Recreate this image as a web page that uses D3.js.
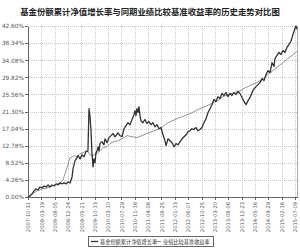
<!DOCTYPE html>
<html>
<head>
<meta charset="utf-8">
<script src="https://cdn.jsdelivr.net/npm/d3@7"></script>
<style>
  html, body { margin: 0; padding: 0; background: #fff; }
  svg { display: block; }
  .grid line { stroke: #c8c8c8; stroke-dasharray: 1,1; shape-rendering: crispEdges; }
  .axis path, .axis line { stroke: #666; shape-rendering: crispEdges; }
  .axis text { fill: #555; font-family: "DejaVu Sans", sans-serif; }
</style>
</head>
<body>
<svg id="chart" width="300" height="249"></svg>
<script>
const title = "基金份额累计净值增长率与同期业绩比较基准收益率的历史走势对比图";
const legendLabels = ["基金份额累计净值增长率", "业绩比较基准收益率"];

// x positions are in "tick periods" (one period between two date labels)
const dateLabels = [
  "2007-10-31", "2008-03-19", "2008-08-05", "2008-12-24", "2009-05-21",
  "2009-10-13", "2010-03-10", "2010-07-29", "2010-11-18", "2011-04-08",
  "2011-08-25", "2012-01-13", "2012-06-07", "2012-10-25", "2013-03-20",
  "2013-08-06", "2013-12-23", "2014-05-16", "2014-09-29", "2015-02-16",
  "2015-07-09"
];
const yTicks = [0, 4.26, 8.52, 12.78, 17.04, 21.30, 25.56, 29.82, 34.08, 38.34, 42.60];
const xEnd = 20.15;

const fundT = [
  0, 0.15, 0.30, 0.45, 0.60, 0.75, 0.90, 1.05, 1.20, 1.35, 1.50, 1.65, 1.80, 1.95,
  2.10, 2.25, 2.40, 2.55, 2.70, 2.85, 3.00, 3.15, 3.30, 3.37, 3.52, 3.67, 3.75, 3.90,
  4.04, 4.19, 4.34, 4.49, 4.57, 4.64, 4.72, 4.79, 4.87, 4.94, 5.02, 5.09, 5.17, 5.24,
  5.32, 5.39, 5.54, 5.69, 5.77, 5.92, 6.07, 6.22, 6.37, 6.52, 6.74, 6.89, 7.04, 7.19,
  7.34, 7.49, 7.64, 7.79, 7.94, 8.01, 8.09, 8.16, 8.24, 8.31, 8.39, 8.46, 8.61, 8.76,
  8.91, 9.06, 9.21, 9.36, 9.51, 9.66, 9.81, 9.96, 10.11, 10.26, 10.34, 10.49, 10.64,
  10.79, 10.94, 11.09, 11.24, 11.39, 11.54, 11.69, 11.84, 11.99, 12.13, 12.28, 12.43,
  12.58, 12.73, 12.88, 13.03, 13.18, 13.33, 13.48, 13.63, 13.78, 13.93, 14.08, 14.23,
  14.38, 14.53, 14.68, 14.83, 14.98, 15.13, 15.28, 15.43, 15.58, 15.73, 15.88, 16.03,
  16.18, 16.33, 16.48, 16.63, 16.78, 16.93, 17.08, 17.23, 17.38, 17.53, 17.68, 17.83,
  17.98, 18.13, 18.28, 18.43, 18.50, 18.65, 18.80, 18.95, 19.10, 19.25, 19.40, 19.55,
  19.70, 19.85, 20.00, 20.07, 20.15
];
const fundV = [
  0, 0.25, 0.75, 1.5, 2.0, 1.75, 2.5, 2.25, 2.75, 2.5, 3.0, 2.5, 3.0, 2.75,
  3.25, 3.0, 3.5, 3.25, 3.5, 3.25, 3.75, 3.5, 5.0, 7.0, 9.0, 9.8, 10.3, 9.5,
  10.5, 10.0, 11.3, 11.5, 22.0, 20.3, 16.5, 11.0, 7.5, 9.5, 8.5, 11.0, 11.5, 12.5,
  11.5, 13.3, 13.8, 13.0, 14.5, 13.5, 14.8, 15.3, 15.8, 15.0, 16.0, 15.3, 15.0, 17.0,
  17.8, 18.5, 18.0, 19.3, 20.5, 21.5, 20.3, 22.0, 21.0, 22.5, 20.3, 19.0, 18.5, 19.3,
  18.3, 18.8, 18.0, 18.5, 17.5, 18.0, 17.0, 17.3, 15.5, 14.0, 12.8, 14.5, 14.0,
  13.5, 12.5, 13.3, 13.0, 13.8, 14.5, 15.0, 15.5, 16.3, 16.5, 17.0, 16.8,
  17.3, 16.5, 16.8, 17.3, 18.5, 19.5, 21.0, 22.0, 23.0, 24.3, 23.8, 25.0,
  24.5, 25.8, 25.3, 26.0, 25.0, 25.8, 25.3, 26.0, 25.5, 26.3, 25.8, 24.8,
  23.8, 23.0, 24.0, 24.8, 26.0, 27.0, 27.5, 28.0, 28.5, 29.5, 29.0, 30.5,
  31.5, 31.0, 33.5, 32.5, 34.5, 35.3, 36.0, 35.5, 36.5, 36.0, 37.3, 38.0,
  38.8, 40.5, 42.0, 42.6, 41.8
];

const benchT = [
  0, 0.30, 0.67, 1.05, 1.42, 1.80, 2.17, 2.40, 2.62, 2.77, 2.92, 3.07, 3.15, 3.30,
  3.45, 3.67, 3.90, 4.12, 4.34, 4.49, 4.64, 4.79, 4.94, 5.17, 5.39, 5.62, 5.92, 6.14,
  6.44, 6.74, 7.04, 7.42, 7.79, 8.16, 8.54, 8.91, 9.29, 9.66, 9.89, 10.19, 10.49,
  10.79, 11.16, 11.54, 11.91, 12.28, 12.73, 13.26, 13.78, 14.23, 14.61, 14.98, 15.43,
  15.88, 16.33, 16.78, 17.15, 17.53, 17.90, 18.28, 18.65, 19.03, 19.40, 19.78, 20.15
];
const benchV = [
  0, 0.75, 1.5, 2.0, 2.25, 2.75, 3.25, 3.5, 4.25, 5.75, 7.25, 9.0, 9.8, 10.0,
  10.3, 10.0, 10.8, 11.0, 11.5, 11.3, 10.5, 10.3, 10.5, 10.8, 11.5, 12.3, 12.5, 13.3,
  13.8, 14.0, 14.5, 15.3, 15.0, 14.8, 15.3, 15.8, 16.3, 16.8, 17.0, 17.8, 18.5,
  19.0, 19.5, 20.0, 20.5, 21.0, 21.8, 22.5, 23.3, 24.0, 25.0, 25.5, 26.0,
  26.5, 27.3, 28.0, 28.5, 29.3, 30.3, 31.3, 32.3, 33.3, 34.3, 35.3, 36.3
];

const svg = d3.select("#chart");
const width = 300, height = 249;
const margin = { top: 26, right: 3, bottom: 52, left: 28 };

const x = d3.scaleLinear()
  .domain([0, xEnd])
  .range([margin.left, width - margin.right]);
const y = d3.scaleLinear()
  .domain([0, 42.6])
  .range([height - margin.bottom, margin.top]);

// title
svg.append("text")
  .attr("x", width / 2)
  .attr("y", 15)
  .attr("text-anchor", "middle")
  .attr("font-family", "'Noto Sans CJK SC', sans-serif")
  .attr("font-weight", 700)
  .attr("font-size", 8.4)
  .attr("fill", "#222")
  .text(title);

// grid
const gridG = svg.append("g").classed("grid", true);
gridG.selectAll(".hg")
  .data(yTicks.slice(1))
  .join("line")
  .attr("class", "hg")
  .attr("x1", margin.left).attr("x2", width - margin.right)
  .attr("y1", (d) => Math.round(y(d)) + 0.5).attr("y2", (d) => Math.round(y(d)) + 0.5);
gridG.selectAll(".vg")
  .data(d3.range(1, dateLabels.length))
  .join("line")
  .attr("class", "vg")
  .attr("x1", (d) => Math.round(x(d)) + 0.5).attr("x2", (d) => Math.round(x(d)) + 0.5)
  .attr("y1", margin.top).attr("y2", height - margin.bottom);

// right frame
svg.append("line")
  .attr("x1", width - margin.right + 0.5).attr("x2", width - margin.right + 0.5)
  .attr("y1", margin.top).attr("y2", height - margin.bottom)
  .attr("stroke", "#aaa");

// axes
const yAxis = d3.axisLeft(y)
  .tickValues(yTicks)
  .tickSize(3)
  .tickPadding(1)
  .tickSizeOuter(0)
  .tickFormat((d) => d.toFixed(2) + "%");
const yAxisG = svg.append("g").classed("axis", true)
  .attr("transform", `translate(${margin.left},0)`)
  .call(yAxis);
yAxisG.selectAll("text").attr("font-size", 5.8);

const xAxis = d3.axisBottom(x)
  .tickValues(d3.range(0, dateLabels.length))
  .tickSize(3)
  .tickSizeOuter(0)
  .tickFormat((d) => dateLabels[d]);
const xAxisG = svg.append("g").classed("axis", true)
  .attr("transform", `translate(0,${height - margin.bottom})`)
  .call(xAxis);
xAxisG.selectAll("text")
  .attr("font-size", 5.2)
  .attr("text-anchor", "end")
  .attr("dy", "0.32em")
  .attr("transform", "translate(0,3) rotate(-90)")
  .attr("x", -2)
  .attr("y", 0);

// series
const line = d3.line()
  .x((d) => x(d[0]))
  .y((d) => y(d[1]));

const benchData = benchT.map((t, i) => [t, benchV[i]]);
const fundData = fundT.map((t, i) => [t, fundV[i]]);

svg.append("path")
  .datum(benchData)
  .attr("d", line)
  .attr("fill", "none")
  .attr("stroke", "#777")
  .attr("stroke-width", 0.8);

svg.append("path")
  .datum(fundData)
  .attr("d", line)
  .attr("fill", "none")
  .attr("stroke", "#333")
  .attr("stroke-width", 1.3)
  .attr("stroke-linejoin", "round");

// legend
const legendG = svg.append("g").attr("transform", "translate(88,236)");
legendG.append("rect")
  .attr("x", 0.5).attr("y", 0.5)
  .attr("width", 125).attr("height", 10)
  .attr("fill", "#fff")
  .attr("stroke", "#666");
const items = legendG.selectAll(".item")
  .data(legendLabels)
  .join("g")
  .attr("class", "item")
  .attr("transform", (d, i) => `translate(${i === 0 ? 3 : 66},0)`);
items.append("line")
  .attr("x1", 0).attr("x2", 7)
  .attr("y1", 5.5).attr("y2", 5.5)
  .attr("stroke", (d, i) => (i === 0 ? "#333" : "#777"))
  .attr("stroke-width", (d, i) => (i === 0 ? 1.3 : 0.8));
items.append("text")
  .attr("x", 9)
  .attr("y", 7.7)
  .attr("font-family", "'Noto Sans CJK SC', sans-serif")
  .attr("font-size", 5.2)
  .attr("fill", "#333")
  .text((d) => d);
</script>
</body>
</html>
